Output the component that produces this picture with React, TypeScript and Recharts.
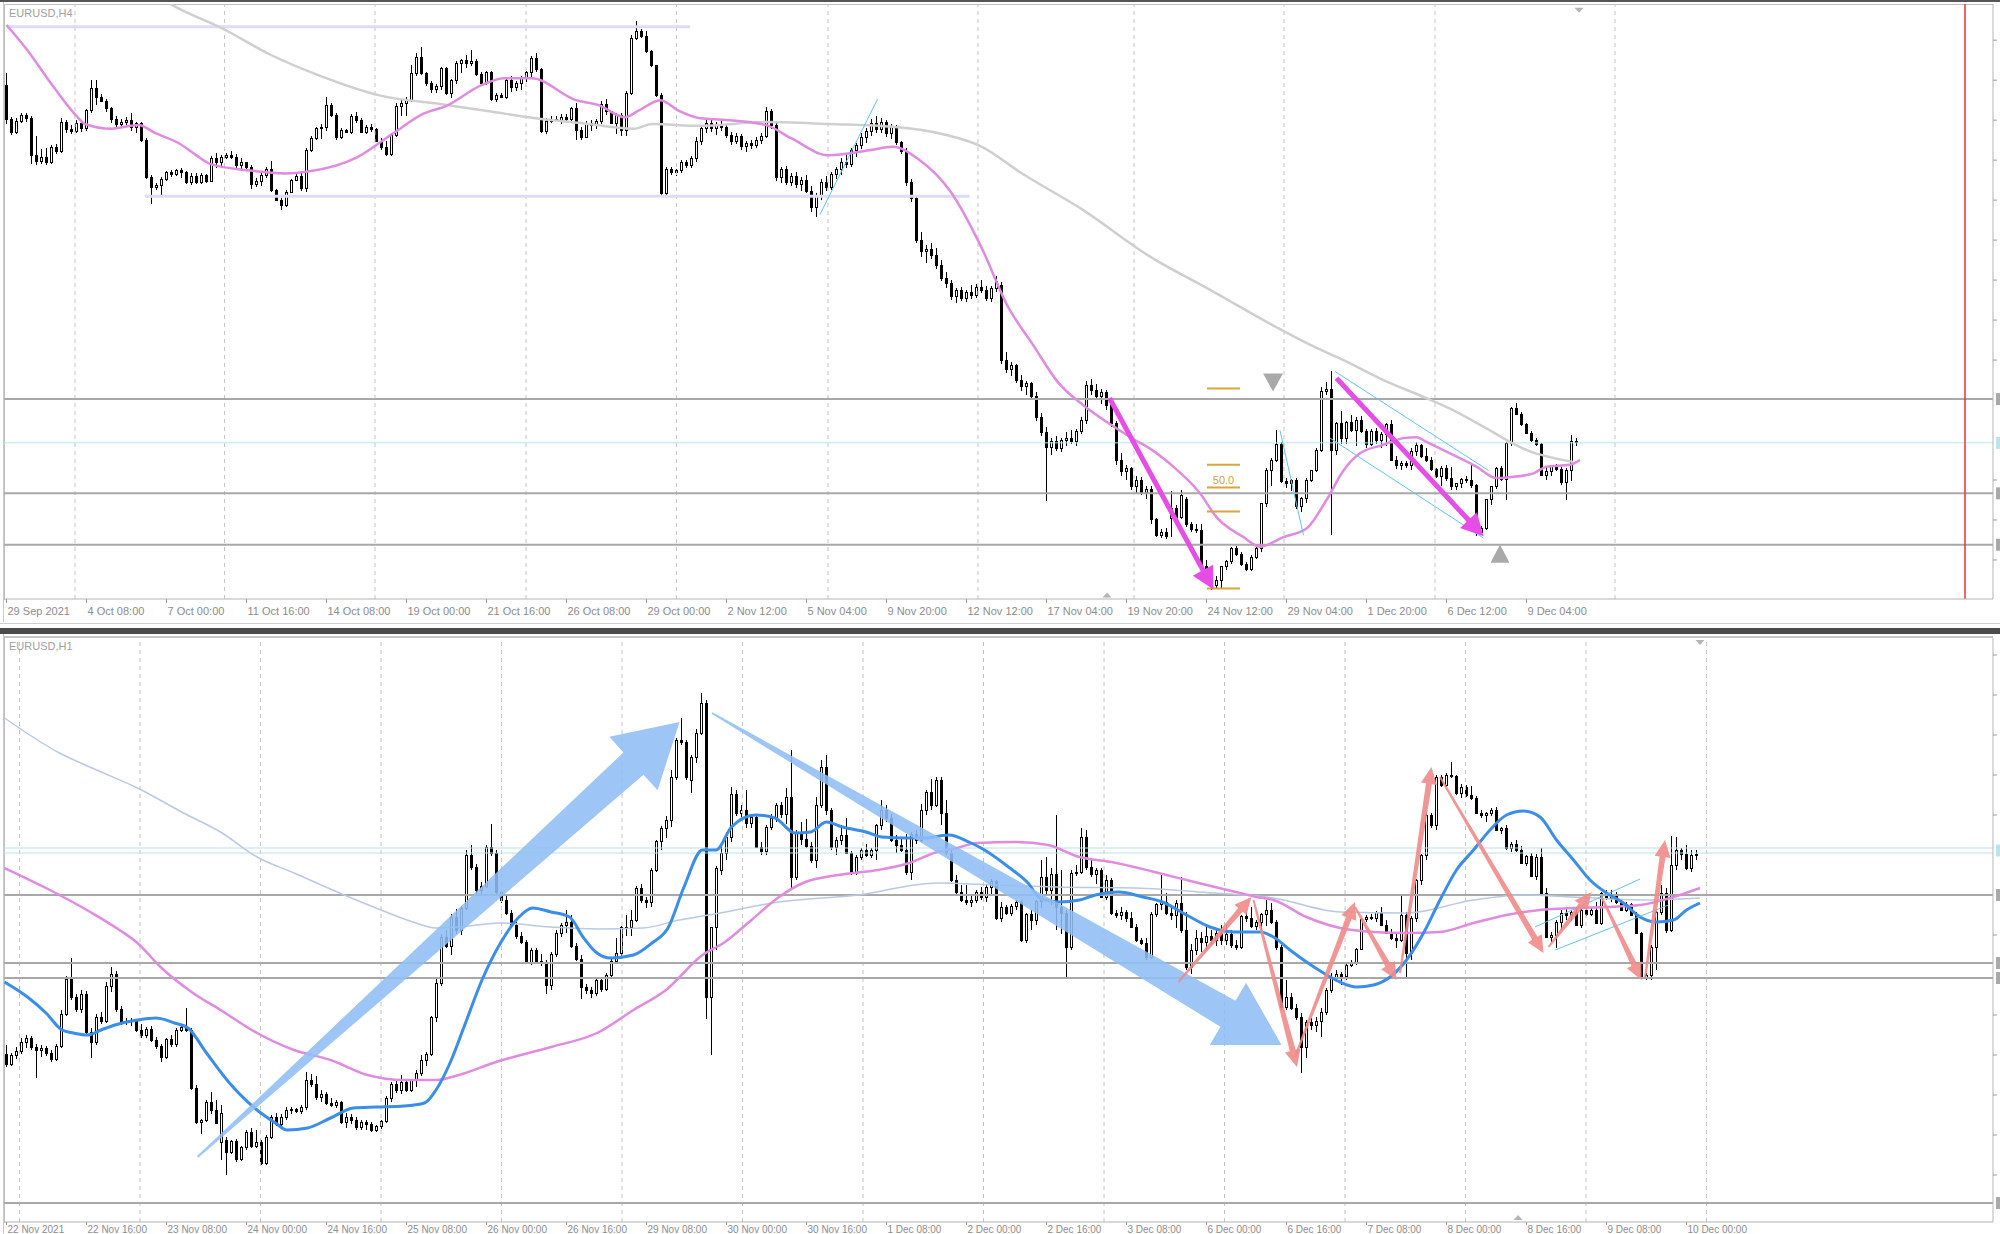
import React from 'react'
import { ComposedChart, Bar, Line, XAxis, YAxis, ReferenceLine, ReferenceDot } from 'recharts'

// open, high, low, close (chart points, higher = up)
type Candle = [number, number, number, number]
type Pt = [number, number] // bar index, value

// ─── EURUSD H4 candles ───
const h4Part1: Candle[] = [
  [610,624,570,575],[575,577,558,561],[561,576,559,573],[573,582,571,579],[579,581,572,576],[576,578,528,537],[537,557,527,531],[531,544,528,535],[535,545,527,530],[530,548,528,545],
  [545,549,538,541],[541,576,539,572],[572,574,561,564],[564,569,559,562],[562,574,561,570],[570,572,562,565],[565,586,563,584],[584,616,582,607],[607,616,590,598],[598,601,593,594],
  [594,596,583,586],[586,588,571,575],[575,578,566,569],[569,575,566,572],[572,577,569,574],[574,581,563,566],[566,572,561,570],[570,572,551,553],[553,555,512,514],[514,516,486,503],
  [503,508,501,505],[505,514,495,512],[512,521,510,519],[519,522,514,517],[517,523,515,521],[521,524,513,519],[519,521,507,508],[508,518,506,515],[515,519,507,509],[509,518,507,516],
  [516,517,508,510],[510,536,509,534],[534,540,524,530],[530,537,525,535],[535,539,533,537],[537,542,533,535],
]
const h4Part2: Candle[] = [
  [535,538,524,526],[526,534,522,529],[529,530,522,524],[524,527,502,506],[506,513,504,510],[510,518,505,516],[516,525,513,522],[522,531,498,500],[500,502,489,490],[490,492,480,484],
  [484,501,483,498],[498,512,497,511],[511,518,510,515],[515,518,500,502],[502,545,499,542],[542,557,541,555],[555,567,553,565],[565,570,554,566],[566,598,563,589],[589,592,577,579],
  [579,581,553,556],[556,566,554,563],[563,565,560,561],[561,580,559,578],[578,583,571,574],[574,576,560,561],[561,569,559,566],[566,570,562,564],[564,566,551,552],[552,555,543,545],
  [545,552,536,538],[538,561,536,558],[558,592,556,588],[588,596,578,592],[592,598,578,595],[595,632,593,623],[623,645,620,640],[640,651,621,623],[623,625,610,613],[613,615,603,606],
  [606,612,603,609],[609,630,606,628],[628,630,600,602],[602,617,597,616],[616,636,612,634],[634,638,623,637],
]
const h4Part3: Candle[] = [
  [637,642,629,634],[634,648,631,636],[636,638,620,622],[622,625,611,613],[613,626,611,624],[624,626,594,596],[596,603,593,600],[600,602,597,598],[598,618,596,616],[616,620,604,608],
  [608,615,605,613],[613,620,606,618],[618,626,614,624],[624,641,617,639],[639,645,625,627],[627,629,560,562],[562,576,559,573],[573,578,571,575],[575,578,573,574],[574,580,570,577],
  [577,580,572,575],[575,588,573,586],[586,592,553,563],[563,567,553,556],[556,573,555,571],[571,574,563,568],[568,575,565,573],[573,594,570,590],[590,596,579,583],[583,584,570,571],
  [571,582,559,579],[579,581,557,563],[563,605,557,602],[602,663,600,660],[660,678,658,667],[667,670,660,662],[662,668,645,646],[646,648,630,631],[631,632,598,600],[600,602,495,497],
  [497,525,495,522],[522,525,516,519],[519,523,515,521],[521,532,518,529],[529,532,524,526],[526,536,524,534],
]
const h4Part4: Candle[] = [
  [534,556,530,552],[552,568,548,565],[565,575,560,571],[571,576,562,565],[565,572,558,569],[569,574,563,566],[566,570,555,558],[558,562,548,552],[552,560,549,557],[557,559,543,546],
  [546,552,541,549],[549,553,544,547],[547,556,545,553],[553,560,549,557],[557,588,555,583],[583,586,565,568],[568,571,510,514],[514,525,508,522],[522,526,506,509],[509,518,505,515],
  [515,520,503,506],[506,514,500,511],[511,516,497,499],[499,505,478,482],[482,497,472,494],[494,512,490,508],[508,515,500,503],[503,520,501,517],[517,525,512,522],[522,534,516,530],
  [530,538,524,527],[527,545,525,542],[542,550,535,547],[547,560,544,556],[556,566,550,562],[562,575,557,570],[570,578,560,564],[564,576,561,572],[572,574,556,560],[560,570,554,567],
  [567,569,548,550],[550,552,538,541],[541,545,505,509],[509,512,488,492],[492,495,445,448],[448,456,430,436],
]
const h4Part5: Candle[] = [
  [436,443,424,438],[438,445,428,432],[432,440,418,421],[421,427,405,408],[408,415,398,402],[402,406,385,389],[389,398,382,395],[395,399,384,387],[387,396,383,393],[393,401,386,390],
  [390,402,387,398],[398,406,392,395],[395,400,384,387],[387,400,383,397],[397,410,393,405],[400,404,318,322],[322,330,308,312],[312,320,305,316],[316,318,298,301],[301,306,290,294],
  [294,300,285,297],[297,299,281,284],[284,288,258,262],[262,266,242,246],[246,252,174,230],[230,240,222,236],[236,242,226,229],[229,240,225,238],[238,246,232,240],[240,248,234,236],
  [236,250,232,247],[247,262,244,259],[259,300,255,295],[295,302,285,290],[290,297,280,284],[284,292,276,288],[288,291,270,274],[274,278,252,255],[255,258,212,216],[216,224,200,205],
  [205,212,196,208],[208,210,186,189],[189,200,182,196],[196,199,180,183],[183,190,176,186],
]
const h4Part6: Candle[] = [
  [186,190,150,154],[154,156,136,138],[138,145,135,141],[141,146,134,137],[156,184,136,166],[166,170,150,157],[157,185,155,180],[176,178,147,149],[149,152,141,144],[144,150,140,143],
  [143,150,103,105],[105,112,88,92],[92,103,80,85],[85,95,83,90],[90,106,82,105],[105,112,101,110],[110,126,108,124],[124,127,116,118],[118,120,106,107],[107,110,100,102],
  [102,117,100,115],[115,126,113,124],[124,172,120,171],[171,209,168,206],[206,219,190,217],[217,249,215,233],[233,236,193,194],[194,198,188,192],[192,197,184,196],[196,198,166,168],
  [168,178,162,177],[177,198,172,196],[196,207,194,206],[206,230,204,227],[227,294,225,289],[289,299,285,291],[291,311,138,227],[227,257,222,255],[255,268,234,240],[240,258,234,256],
  [256,264,246,248],[248,262,232,258],[258,263,245,247],[247,250,230,233],[233,250,232,247],[247,251,234,238],[238,246,230,244],[244,256,232,254],[254,259,216,217],[217,221,208,211],
  [211,216,207,213],[213,216,209,211],[211,230,207,226],[226,236,221,232],[232,234,219,221],[221,230,215,217],[217,220,205,207],[207,209,198,200],[200,211,190,208],[208,212,195,198],
  [198,210,186,189],[189,193,185,192],[192,198,188,197],[197,200,193,195],[195,212,188,190],[190,192,137,141],[141,148,138,145],[145,176,143,175],[175,190,170,189],[189,210,187,208],
  [208,211,195,197],[197,236,175,234],[234,273,232,271],[271,277,264,265],[265,267,253,254],[254,256,244,245],[245,247,236,237],[237,240,232,233],[233,235,200,201],[201,211,196,205],
  [205,212,200,210],[210,213,205,207],[207,210,191,193],[193,209,175,206],[206,243,195,236],[236,240,232,235],
]

const h4MaFast: Pt[] = [
  [0,674],[4.1,648],[9.4,609],[13.9,579],[15.7,570],[21,565],[26.4,569],[29.9,560],[34.4,550],[38,537],[40.7,528],[48.7,521],[55.8,518],[60.3,520],
  [70.1,535],[77.3,560],[83.5,581],[88,589],[95.1,611],[99.6,618],[105,618],[113.9,595],[118.3,590],[123.7,577],[126.4,584],[130.8,595],[134.4,584],
  [138.7,576],[141.6,575],[151.8,569],[156.9,555],[164.5,537],[172.2,542],[177.3,546],[182.4,533],[188.8,499],[195.1,439],[200.2,379],[205.3,338],
  [210.4,298],[215.5,274],[220.6,255],[225.7,238],[228.7,229],[232.7,213],[238.7,182],[242,157],[247.4,136],[250.7,126],[255.4,136],[260,145],[264,175],
  [267.4,206],[270.7,224],[275.4,233],[279.4,240],[282,241],[284,236],[288.7,224],[294,210],[298,198],[300.7,199],[305.4,203],[308,210],[312.7,212],[314.7,217],
]
const h4MaSlow: Pt[] = [
  [28,712],[33.1,695],[43.3,670],[52.3,644],[63,620],[74.6,600],[88,590],[96.9,583],[105.8,576],[114.8,571],[125.5,565],[129.1,570],[138.7,568],
  [151.8,572],[164.5,570],[177.3,567],[187.5,559],[195.1,546],[202.8,519],[215.5,479],[228.3,432],[241,395],[253.8,357],[261.5,336],[267.4,322],
  [275.4,301],[284,282],[288.7,271],[295.4,252],[300.7,236],[304.7,226],[308.7,220],[313.4,215],
]
const h4Levels = [281, 182, 128]
const h4BidLevel = 235
const h4FiboLevels = [292, 212, 188, 163, 82]
const h4Labels = ['29 Sep 2021','4 Oct 08:00','7 Oct 00:00','11 Oct 16:00','14 Oct 08:00','19 Oct 00:00','21 Oct 16:00','26 Oct 08:00','29 Oct 00:00','2 Nov 12:00','5 Nov 04:00','9 Nov 20:00','12 Nov 12:00','17 Nov 04:00','19 Nov 20:00','24 Nov 12:00','29 Nov 04:00','1 Dec 20:00','6 Dec 12:00','9 Dec 04:00']
const h4GridBars = [13.7, 43.6, 73.7, 103.9, 134, 164.3, 194.3, 225.5, 255.5, 285.7, 321.7]
const h4PriceTicks = [658, 616, 574, 532, 490, 448, 406, 364, 322, 196, 154, 112]

// ─── EURUSD H1 candles ───
const h1Part1: Candle[] = [
  [246,255,233,236],[236,247,234,245],[245,253,241,249],[249,262,246,258],[258,265,252,262],[262,264,250,253],[253,256,222,250],[250,255,243,252],[252,254,244,247],[247,250,238,241],
  [241,256,239,254],[254,290,252,286],[286,324,284,321],[321,342,300,303],[303,306,288,291],[291,310,287,306],[306,309,265,268],[268,272,242,258],[258,286,255,283],[283,288,276,279],
  [279,318,277,314],[314,333,308,326],[326,329,288,291],[291,294,275,278],[278,282,275,279],[279,282,274,280],[280,281,268,270],[270,276,262,265],[265,273,262,271],[271,274,258,260],
  [260,263,251,254],[254,256,238,243],[243,262,241,261],[261,265,253,256],[256,272,253,270],[270,276,268,273],[273,292,268,270],[270,272,210,212],[212,215,176,178],[178,181,166,180],
  [180,200,178,198],[198,208,186,190],[190,200,176,177],[158,195,140,187],[160,163,125,148],[148,160,146,159],[159,161,138,141],[141,154,139,153],
]
const h1Part2: Candle[] = [
  [153,170,150,168],[168,172,152,154],[154,170,152,158],[158,160,135,137],[137,165,135,163],[163,185,161,183],[183,187,174,176],[176,186,172,183],[183,193,180,190],[190,193,186,191],
  [191,192,187,189],[189,195,186,193],[193,228,190,220],[220,226,213,216],[216,224,200,203],[203,210,198,206],[206,208,195,197],[197,202,193,195],[195,200,192,198],[198,199,176,178],
  [178,187,172,183],[183,186,176,180],[180,183,170,173],[173,180,170,178],[178,180,170,176],[176,178,168,170],[170,175,168,174],[174,180,171,179],[179,204,177,202],[202,218,198,216],
  [216,220,207,210],[210,225,206,218],[218,220,208,210],[210,221,208,220],[220,230,213,227],[227,245,224,240],[240,248,234,246],[246,284,244,283],[283,321,278,317],[317,366,314,363],
  [363,370,352,354],[354,386,345,383],[383,391,366,370],[370,394,365,392],[392,450,390,445],[445,455,430,433],[433,436,405,410],[410,418,404,414],
]
const h1Part3: Candle[] = [
  [414,455,412,453],[453,476,444,447],[447,450,406,408],[408,410,397,400],[400,405,385,387],[387,390,373,375],[375,378,361,364],[364,368,356,358],[358,360,336,338],[338,352,335,350],
  [350,352,336,339],[339,346,334,337],[337,340,306,315],[315,348,310,346],[346,370,343,367],[367,377,363,375],[375,390,367,378],[378,385,352,354],[354,357,339,341],[341,345,301,313],
  [313,316,306,310],[310,313,302,307],[307,322,304,320],[320,323,308,311],[311,327,309,325],[325,341,322,339],[339,362,337,347],[347,374,343,373],[373,385,364,373],[373,390,364,380],
  [380,414,378,412],[412,416,397,400],[400,403,392,398],[398,432,393,430],[430,460,428,459],[459,474,450,472],[472,484,462,480],[480,530,473,523],[523,562,520,560],[560,582,555,558],
  [558,560,520,523],[520,545,507,543],[543,571,537,567],[567,607,565,597],[597,600,281,303],[303,373,245,373],
]
const h1Part4: Candle[] = [
  [373,434,350,432],[430,455,425,447],[447,468,440,463],[463,513,458,506],[506,510,484,487],[487,495,483,490],[490,510,472,477],[477,486,472,483],[483,485,452,453],[453,458,445,449],
  [449,475,445,473],[473,486,470,482],[482,497,478,495],[495,498,482,486],[486,512,476,503],[503,550,410,423],[423,470,420,467],[467,478,455,461],[461,481,452,454],[454,458,437,440],
  [440,503,432,495],[495,540,492,533],[533,545,485,490],[490,492,450,453],[453,463,445,460],[460,475,455,465],[465,482,446,447],[447,449,425,427],[427,445,425,443],[443,452,440,450],
  [450,456,443,445],[445,452,442,450],[450,476,440,475],[475,500,470,490],[490,495,478,482],[482,486,458,460],[460,465,447,455],[455,462,448,450],[450,466,425,428],[428,468,420,466],
  [466,470,456,460],[460,496,458,490],[490,510,485,508],[508,521,490,495],[495,523,493,520],[520,523,475,487],[487,500,445,447],[447,450,418,420],[420,425,405,408],[408,415,398,400],
  [400,415,395,398],[398,404,393,400],[400,410,397,408],[408,413,400,403],[403,415,398,413],[413,421,405,419],[419,420,380,382],[382,398,378,393],[393,395,385,387],[387,396,384,394],
]
const h1Part5: Candle[] = [
  [394,400,390,398],[398,400,358,360],[360,387,357,386],[386,390,370,380],[380,400,375,399],[399,440,392,423],[423,443,405,410],[410,432,395,426],[426,485,370,393],[393,430,366,387],
  [387,390,323,353],[353,430,350,427],[427,435,424,428],[428,472,426,463],[463,470,430,433],[433,440,423,426],[426,432,416,430],[430,432,402,403],[403,425,400,420],[420,422,385,387],
  [387,390,382,385],[385,393,380,388],[388,390,378,382],[382,388,372,373],[373,376,358,360],[360,362,355,357],[357,362,340,343],[343,388,341,386],[386,397,383,396],[396,427,390,398],
  [398,407,385,387],[387,392,380,385],[385,400,372,397],[397,423,367,370],[370,388,330,333],[333,356,326,350],[350,370,345,362],[362,368,348,358],[358,375,350,364],[364,370,355,360],
  [360,372,354,367],[367,375,355,360],[360,375,355,366],[366,370,352,355],[355,360,350,353],[353,385,351,384],[384,388,378,382],[382,393,372,374],[374,380,370,378],[378,387,370,386],
  [386,400,374,390],[390,397,376,378],[378,380,350,353],[353,355,290,293],[293,320,290,303],[303,307,290,292],[292,296,280,283],[283,287,227,253],[253,280,242,278],[278,282,270,275],
  [275,283,268,279],
]
const h1Part6: Candle[] = [
  [279,292,263,288],[288,312,285,310],[310,327,307,323],[323,330,320,326],[326,328,315,324],[324,338,320,335],[335,340,333,338],[338,352,335,351],[351,382,350,381],[381,385,378,383],
  [383,386,380,382],[382,389,378,388],[388,393,374,375],[375,380,366,367],[367,371,360,362],[362,366,352,360],[360,405,358,385],[385,388,322,347],[347,384,340,382],[382,421,378,420],
  [420,446,415,445],[445,487,440,485],[485,487,472,475],[475,525,470,523],[523,525,513,515],[515,527,513,525],[525,538,522,524],[524,525,505,507],[507,516,502,513],[513,515,503,505],
  [505,514,500,502],[502,504,486,487],[487,490,482,485],[485,488,478,487],[487,492,484,490],[490,493,469,470],[470,473,466,472],[472,475,450,452],[452,458,448,456],[456,460,448,450],
]
const h1Part7: Candle[] = [
  [450,454,436,437],[437,445,434,444],[444,447,423,424],[424,446,420,443],[443,452,405,407],[407,412,362,363],[363,368,358,365],[365,380,352,378],[378,390,370,387],[387,392,380,385],
  [385,390,379,388],[388,392,374,375],[375,391,372,390],[390,392,384,386],[386,392,384,390],[390,398,376,377],[377,408,375,407],[407,410,400,402],[402,410,398,404],[404,408,396,398],
  [398,400,389,390],[390,398,388,396],[396,397,384,385],[385,388,366,367],[367,368,322,323],[323,327,320,325],[325,355,320,353],[353,389,330,388],[388,415,385,407],[407,412,367,370],
  [370,464,368,435],[435,463,430,450],[450,452,440,446],[446,455,430,432],[432,450,428,445],[445,450,440,446],
]

const h1MaFast: Pt[] = [
  [-0.4,318],[4.2,303],[7.9,287],[11.1,270],[13.4,267],[16.2,265],[18.9,270],[21.7,275],[26.2,280],[29.9,282],[33.6,277],[36.3,272],[40,247],[44.6,217],
  [50.1,190],[53.8,177],[56.1,170],[60.2,172],[64.8,182],[69.4,192],[74,193],[79.5,194],[83.6,197],[85.9,210],[88.7,237],[91.5,273],[95.1,320],[98.8,357],
  [102.5,383],[105.2,392],[108.9,388],[112.6,383],[115.3,363],[118.1,347],[120.8,342],[125.4,345],[129.1,357],[132.3,372],[135.5,413],[139.2,450],[141.9,450],
  [145,473],[149.8,485],[153.7,482],[157.7,467],[160.8,468],[164,478],[167.2,473],[171.9,468],[175.1,463],[179.8,462],[183.8,462],[188.5,465],[192.5,458],
  [195.6,450],[200.4,433],[204.3,417],[206.7,402],[210.7,398],[214.6,400],[217.8,405],[222.5,408],[227.3,403],[231.2,398],[236,385],[240.7,373],[245.5,368],
  [250.7,368],[253.4,363],[256.7,350],[260,338],[263.4,327],[266.7,318],[270,313],[273.4,315],[276.7,323],[280,340],[283.4,367],[286.7,400],[290,430],
  [293.4,450],[296.7,470],[300,485],[303.4,489],[306.7,483],[310,460],[313.4,440],[316.7,420],[320,407],[323.4,397],[326.7,383],[330,378],[333.4,380],[336,390],[338.7,397],
]
const h1MaMid: Pt[] = [
  [-0.4,432],[7.9,412],[17.1,387],[22.6,370],[26.2,357],[30.8,333],[37.3,307],[42.8,290],[50.1,267],[57.5,250],[64.8,240],[72.2,225],[79.5,220],[85.9,220],
  [90.5,225],[97.9,238],[108.9,253],[118.1,267],[125.4,290],[131.9,310],[139.2,345],[143.4,357],[149,380],[154.5,403],[159.3,417],[166.4,425],[174.3,430],
  [180.6,437],[186.1,448],[190.1,452],[194,457],[202,458],[208.3,455],[214.6,443],[221,438],[229.6,428],[237.6,418],[246.7,407],[250,403],[253.4,400],
  [260,383],[266.7,372],[273.4,368],[280,367],[286.7,368],[293.4,377],[300,385],[306.7,390],[313.4,392],[320,393],[326.7,395],[333.4,403],[338.7,412],
]
const h1MaSlow: Pt[] = [
  [-0.4,582],[10.6,547],[17.1,532],[26.2,512],[35.4,487],[42.8,468],[50.1,443],[57.5,427],[66.6,407],[74.9,390],[81.3,378],[85.9,372],[90.5,373],[98.8,377],
  [108.9,373],[118.1,371],[127.3,372],[134.6,380],[142.7,387],[154.5,398],[170.3,405],[186.1,417],[198,415],[209.9,413],[225.7,412],[241.5,407],[253.4,402],
  [266.7,388],[280,387],[293.4,400],[303.4,405],[313.4,403],[326.7,400],[338.7,402],
]
const h1Levels = [405, 337, 322, 97]
const h1BidLevels = [452, 447]
const h1Labels = ['22 Nov 2021','22 Nov 16:00','23 Nov 08:00','24 Nov 00:00','24 Nov 16:00','25 Nov 08:00','26 Nov 00:00','26 Nov 16:00','29 Nov 08:00','30 Nov 00:00','30 Nov 16:00','1 Dec 08:00','2 Dec 00:00','2 Dec 16:00','3 Dec 08:00','6 Dec 00:00','6 Dec 16:00','7 Dec 08:00','8 Dec 00:00','8 Dec 16:00','9 Dec 08:00','10 Dec 00:00']
const h1GridBars = [2.6, 26.7, 50.8, 74.9, 99, 123.1, 147.2, 171.3, 195.4, 219.5, 243.6, 267.7, 291.8, 315.9, 340]
const h1PriceTicks = [645, 605, 565, 525, 485, 365, 285, 245, 205, 165, 125]

// drawn objects: [tailBar, tailValue, tipBar, tipValue]
const h4PinkArrows = [[220.6, 282, 241.4, 81], [266, 303, 295.4, 137]]
const h4Channels = [[162.7, 475, 174.2, 596], [254.7, 248, 259.4, 138], [265.7, 310, 296.4, 206], [264.7, 240, 295.4, 135]]
const h1BlueArrows = [[38.2, 143, 134.6, 578], [141.1, 587, 255, 255]]
const h1RedArrows = [
  [234.4, 318, 249, 403], [249.4, 400, 258.1, 233], [257.7, 243, 269.7, 398], [269.7, 393, 278, 320], [278.7, 327, 285, 533],
  [286.7, 523, 307.4, 347], [308.4, 353, 317, 408], [319, 403, 327, 320], [327.7, 322, 331.7, 460],
]
const h1Channels = [[305.7, 373, 326.7, 421], [309.7, 350, 332.4, 395]]

const FONT = '"Liberation Sans", Arial, sans-serif'
const GRAY_LINE = '#a8a8a8'

const toRows = (parts: Candle[][]) =>
  parts.flat().map(([o, h, l, c], i) => ({ i, o, h, l, c, range: [l, h] }))
const toPts = (pts: Pt[]) => pts.map(([i, v]) => ({ i, v }))

const h4Rows = toRows([h4Part1, h4Part2, h4Part3, h4Part4, h4Part5, h4Part6])
const h1Rows = toRows([h1Part1, h1Part2, h1Part3, h1Part4, h1Part5, h1Part6, h1Part7])

const CandleShape = (props: any) => {
  const { x, y, width, height, payload } = props
  if (!payload || payload.h == null) return null
  const top = Math.min(y, y + height)
  const bot = Math.max(y, y + height)
  const span = payload.h - payload.l
  const k = span > 0 ? (bot - top) / span : 0
  const py = (v: number) => top + (payload.h - v) * k
  const cx = Math.round(x + width / 2) + 0.5
  const yo = py(payload.o)
  const yc = py(payload.c)
  const bt = Math.min(yo, yc)
  const bb = Math.max(yo, yc)
  const bull = payload.c >= payload.o
  return (
    <g shapeRendering="crispEdges">
      <line x1={cx} x2={cx} y1={top} y2={bot} stroke="#000" strokeWidth={1} />
      <rect x={cx - 1} y={bt} width={2} height={Math.max(bb - bt, 0.6)} fill={bull ? '#fff' : '#000'} stroke="#000" strokeWidth={1} />
    </g>
  )
}

function arrowPoints(x1: number, y1: number, x2: number, y2: number, w0: number, w1: number, headLen: number, headHalf: number) {
  const dx = x2 - x1
  const dy = y2 - y1
  const len = Math.hypot(dx, dy) || 1
  const ux = dx / len
  const uy = dy / len
  const nx = -uy
  const ny = ux
  const bx = x2 - ux * headLen
  const by = y2 - uy * headLen
  const pts = [
    [x1 + nx * w0, y1 + ny * w0], [bx + nx * w1, by + ny * w1], [bx + nx * headHalf, by + ny * headHalf], [x2, y2],
    [bx - nx * headHalf, by - ny * headHalf], [bx - nx * w1, by - ny * w1], [x1 - nx * w0, y1 - ny * w0],
  ]
  return pts.map(p => p.join(',')).join(' ')
}

const arrowShape = (fill: string, w0: number, w1: number, headLen: number, headHalf: number, opacity = 1) => (p: any) => (
  <polygon points={arrowPoints(p.x1, p.y1, p.x2, p.y2, w0, w1, headLen, headHalf)} fill={fill} fillOpacity={opacity} />
)

const triShape = (w: number, h: number, up: boolean, fill = '#a9a9a9') => (p: any) => {
  const { cx, cy } = p
  const tip = up ? cy - h : cy + h
  return <polygon points={`${cx - w / 2},${cy} ${cx + w / 2},${cy} ${cx},${tip}`} fill={fill} />
}

const timeTick = (labels: string[], dy: number, size: number) => (p: any) => {
  const k = Math.round(p.payload.value / 16)
  return (
    <text x={p.x + 1} y={p.y + dy} fontSize={size} fill="#8c8c8c" fontFamily={FONT}>
      {labels[k]}
    </text>
  )
}

const priceTick = (boxes: { v: number; color: string }[]) => (p: any) => {
  const v = p.payload.value
  const box = boxes.find(b => Math.abs(b.v - v) < 0.01)
  if (box) return <rect x={p.x + 3} y={p.y - 6} width={8} height={12} fill={box.color} />
  return <line x1={p.x} x2={p.x + 4} y1={p.y} y2={p.y} stroke="#9a9a9a" />
}

function H4Chart() {
  const boxes = [...h4Levels.map(v => ({ v, color: '#a9a9a9' })), { v: h4BidLevel, color: '#bfe3ec' }]
  return (
    <ComposedChart width={1996} height={615} data={h4Rows} margin={{ top: 0, right: 0, bottom: 0, left: 0 }}>
      <XAxis
        type="number" dataKey="i" domain={[-0.5, 397.3]} allowDataOverflow height={20}
        ticks={h4Labels.map((_, k) => k * 16)} interval={0} tickSize={4}
        tick={timeTick(h4Labels, 10, 11)} axisLine={{ stroke: '#b4b4b4' }} tickLine={{ stroke: '#9a9a9a' }}
      />
      <YAxis
        type="number" orientation="right" width={7} domain={[71, 696]} allowDataOverflow
        ticks={[...h4PriceTicks, ...boxes.map(b => b.v)]} interval={0} tickSize={0} tickMargin={0}
        tick={priceTick(boxes)} tickLine={false} axisLine={{ stroke: '#b4b4b4' }}
      />
      {h4GridBars.map(g => (
        <ReferenceLine key={'g' + g} x={g} stroke="#c4c4c4" strokeDasharray="4 4" ifOverflow="visible" />
      ))}
      <ReferenceLine segment={[{ x: 0, y: 672 }, { x: 136.7, y: 672 }]} stroke="#dcdcf6" strokeWidth={3} ifOverflow="visible" />
      <ReferenceLine segment={[{ x: 27.7, y: 494 }, { x: 192.6, y: 494 }]} stroke="#dcdcf6" strokeWidth={3} ifOverflow="visible" />
      {h4Levels.map(v => (
        <ReferenceLine key={'l' + v} y={v} stroke={GRAY_LINE} strokeWidth={2} />
      ))}
      <ReferenceLine y={h4BidLevel} stroke="#b9e2ea" strokeWidth={1} />
      <ReferenceLine x={391.7} stroke="#e8352e" strokeWidth={1.5} />
      <Line data={toPts(h4MaSlow)} dataKey="v" type="monotone" stroke="#cfcfcf" strokeWidth={2.5} dot={false} activeDot={false} isAnimationActive={false} />
      <Line data={toPts(h4MaFast)} dataKey="v" type="monotone" stroke="#e08ae0" strokeWidth={2.5} dot={false} activeDot={false} isAnimationActive={false} />
      <Bar dataKey="range" barSize={5} shape={(p: any) => <CandleShape {...p} />} isAnimationActive={false} />
      {h4FiboLevels.map(v => (
        <ReferenceLine key={'f' + v} segment={[{ x: 240.1, y: v }, { x: 246.7, y: v }]} stroke="#d9a441" strokeWidth={2} ifOverflow="visible" />
      ))}
      <ReferenceDot x={243.4} y={192} ifOverflow="visible"
        shape={(p: any) => <text x={p.cx} y={p.cy} textAnchor="middle" fontSize={11} fill="#d6a03c" fontFamily={FONT}>50.0</text>} />
      {h4Channels.map(([a, b, c, d], k) => (
        <ReferenceLine key={'c' + k} segment={[{ x: a, y: b }, { x: c, y: d }]} stroke="#62c3f0" strokeWidth={1} ifOverflow="visible" />
      ))}
      {h4PinkArrows.map(([a, b, c, d], k) => (
        <ReferenceLine key={'a' + k} segment={[{ x: a, y: b }, { x: c, y: d }]} ifOverflow="visible"
          shape={arrowShape('#e64ce6', 2.5, 2.5, 22, 11.5)} />
      ))}
      <ReferenceDot x={253.3} y={308} ifOverflow="visible" shape={triShape(20, 18, false)} />
      <ReferenceDot x={298.7} y={109} ifOverflow="visible" shape={triShape(19, 18, true)} />
      <ReferenceDot x={314.5} y={692} ifOverflow="visible" shape={triShape(9, 5, false, '#b4b4b4')} />
      <ReferenceDot x={220.1} y={72.5} ifOverflow="visible" shape={triShape(9, 5, true, '#b4b4b4')} />
    </ComposedChart>
  )
}

function H1Chart() {
  const boxes = [...h1Levels.map(v => ({ v, color: '#a9a9a9' })), { v: 449.5, color: '#bfe3ec' }]
  return (
    <ComposedChart width={1996} height={604} data={h1Rows} margin={{ top: 0, right: 0, bottom: 0, left: 0 }}>
      <XAxis
        type="number" dataKey="i" domain={[-0.5, 397.3]} allowDataOverflow height={20}
        ticks={h1Labels.map((_, k) => k * 16)} interval={0} tickSize={3}
        tick={timeTick(h1Labels, 5.5, 10)} axisLine={{ stroke: '#b4b4b4' }} tickLine={{ stroke: '#9a9a9a' }}
      />
      <YAxis
        type="number" orientation="right" width={7} domain={[78, 662]} allowDataOverflow
        ticks={[...h1PriceTicks, ...boxes.map(b => b.v)]} interval={0} tickSize={0} tickMargin={0}
        tick={priceTick(boxes)} tickLine={false} axisLine={{ stroke: '#b4b4b4' }}
      />
      {h1GridBars.map(g => (
        <ReferenceLine key={'g' + g} x={g} stroke="#c4c4c4" strokeDasharray="4 4" ifOverflow="visible" />
      ))}
      {h1BidLevels.map(v => (
        <ReferenceLine key={'b' + v} y={v} stroke="#b9e2ea" strokeWidth={1} />
      ))}
      {h1Levels.map(v => (
        <ReferenceLine key={'l' + v} y={v} stroke={GRAY_LINE} strokeWidth={2} />
      ))}
      <Line data={toPts(h1MaSlow)} dataKey="v" type="monotone" stroke="#b9c9e2" strokeWidth={1.5} dot={false} activeDot={false} isAnimationActive={false} />
      <Line data={toPts(h1MaMid)} dataKey="v" type="monotone" stroke="#e08ae0" strokeWidth={2.5} dot={false} activeDot={false} isAnimationActive={false} />
      <Line data={toPts(h1MaFast)} dataKey="v" type="monotone" stroke="#3a8ee8" strokeWidth={3} dot={false} activeDot={false} isAnimationActive={false} />
      <Bar dataKey="range" barSize={5} shape={(p: any) => <CandleShape {...p} />} isAnimationActive={false} />
      {h1BlueArrows.map(([a, b, c, d], k) => (
        <ReferenceLine key={'ba' + k} segment={[{ x: a, y: b }, { x: c, y: d }]} ifOverflow="visible"
          shape={arrowShape('#8fbef5', 1, 15, 62, 36, 0.88)} />
      ))}
      {h1Channels.map(([a, b, c, d], k) => (
        <ReferenceLine key={'c' + k} segment={[{ x: a, y: b }, { x: c, y: d }]} stroke="#62c3f0" strokeWidth={1} ifOverflow="visible" />
      ))}
      {h1RedArrows.map(([a, b, c, d], k) => (
        <ReferenceLine key={'ra' + k} segment={[{ x: a, y: b }, { x: c, y: d }]} ifOverflow="visible"
          shape={arrowShape('#f08a8a', 1, 3, 17, 8, 0.9)} />
      ))}
      <ReferenceDot x={338.7} y={660} ifOverflow="visible" shape={triShape(9, 5, false, '#b4b4b4')} />
      <ReferenceDot x={302.3} y={80} ifOverflow="visible" shape={triShape(9, 5, true, '#b4b4b4')} />
    </ComposedChart>
  )
}

export default function App() {
  const abs = (s: React.CSSProperties): React.CSSProperties => ({ position: 'absolute', ...s })
  return (
    <div style={{ position: 'fixed', left: 0, top: 0, width: 2000, height: 1234, background: '#fff', overflow: 'hidden', fontFamily: FONT }}>
      <div style={abs({ left: 0, top: 0, width: 2000, height: 2, background: '#555' })} />
      <div style={abs({ left: 3, top: 2, width: 1, height: 620, background: '#c8c8c8' })} />
      <div style={abs({ left: 4, top: 4, width: 1989, height: 596, borderTop: '1px solid #c0c0c0', borderLeft: '1px solid #c0c0c0', boxSizing: 'border-box' })} />
      <div style={abs({ left: 0, top: 623, width: 2000, height: 1, background: '#cfcfcf' })} />
      <div style={abs({ left: 0, top: 628, width: 2000, height: 6, background: '#4b4b4b' })} />
      <div style={abs({ left: 3, top: 634, width: 1, height: 600, background: '#c8c8c8' })} />
      <div style={abs({ left: 4, top: 636, width: 1989, height: 587, borderTop: '2px solid #c6c6c6', borderLeft: '1px solid #c0c0c0', boxSizing: 'border-box' })} />
      <div style={abs({ left: 4, top: 4 })}>
        <H4Chart />
      </div>
      <div style={abs({ left: 4, top: 638 })}>
        <H1Chart />
      </div>
      <div style={abs({ left: 9, top: 8, fontSize: 11, lineHeight: '11px', color: '#a0a0a0' })}>EURUSD,H4</div>
      <div style={abs({ left: 9, top: 641, fontSize: 11, lineHeight: '11px', color: '#a0a0a0' })}>EURUSD,H1</div>
    </div>
  )
}
